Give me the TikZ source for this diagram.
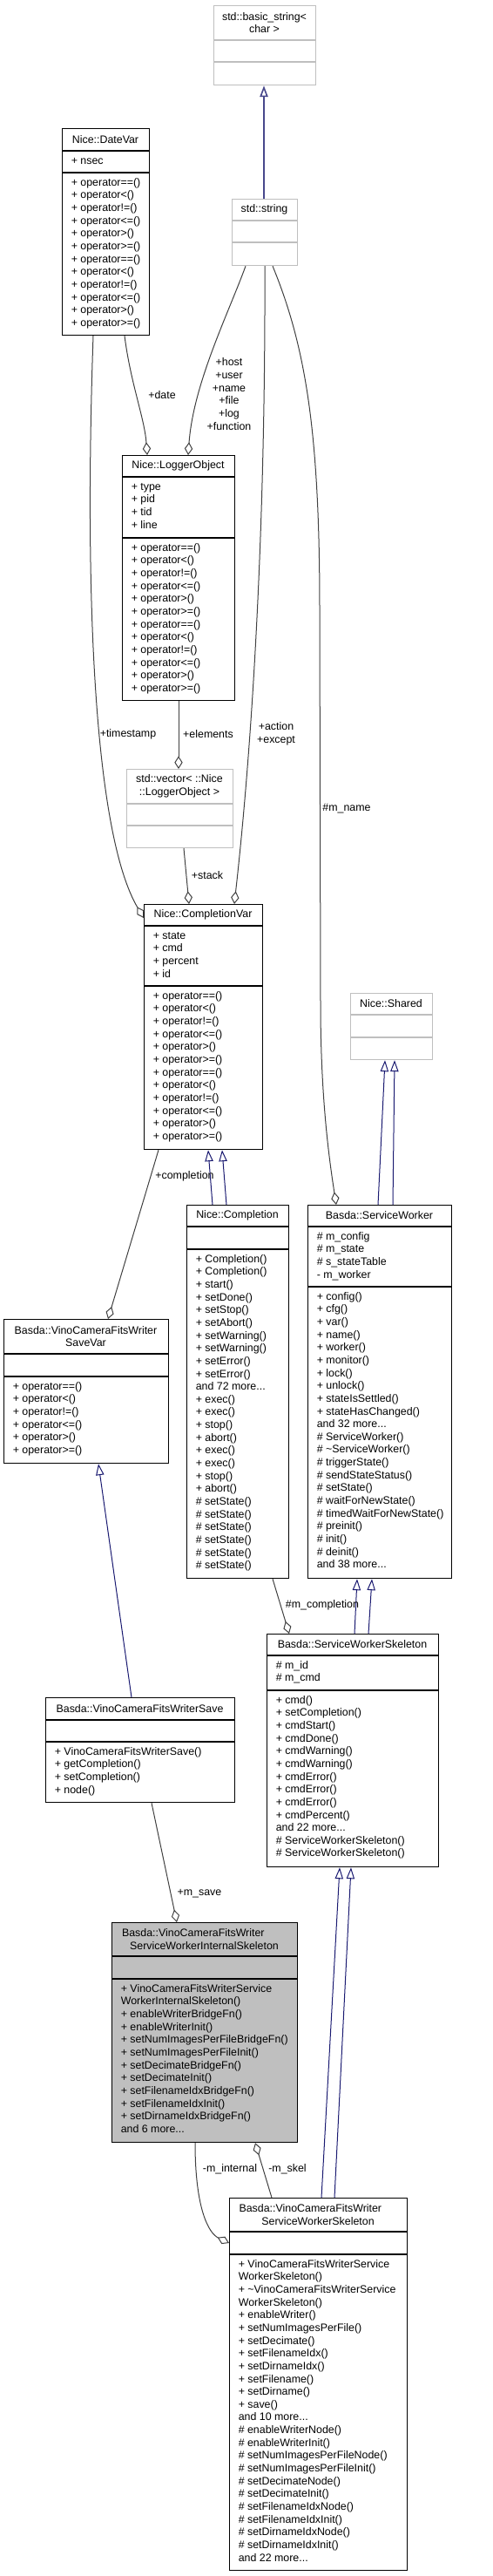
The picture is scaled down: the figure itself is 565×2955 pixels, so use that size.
\documentclass[tikz,border=0pt]{standalone}
\usepackage{fontspec}
\setmainfont{Liberation Sans}
\usetikzlibrary{arrows.meta,calc}
\definecolor{edgegray}{HTML}{404040}
\definecolor{inhblue}{HTML}{191970}
\definecolor{lightborder}{HTML}{BFBFBF}
\definecolor{selfill}{HTML}{BFBFBF}
\newcommand\umlbox[9]{%
  \node[#2, anchor=north west, inner sep=0pt, minimum width={(#5-#3)*0.75pt}, minimum height={(#6-#4)*0.75pt}] (#1) at (#3,#4) {};
  \draw[#2] ($(#1.north west)+(0,#7-#4)$) -- ($(#1.north east)+(0,#7-#4)$);
  \draw[#2] ($(#1.north west)+(0,#8-#4)$) -- ($(#1.north east)+(0,#8-#4)$);
  \node[ttl] (#1-t) at ({(#3+#5)/2},{(#4+#7)/2}) {#9};
}
\newcommand\umlmem[4]{\node[mem] (#1) at (#2,#3) {\strut #4};}
\begin{document}
\begin{tikzpicture}[x=0.75pt,y=-0.75pt,
  txt/.style={font=\fontsize{9.3}{10.98}\selectfont, inner sep=0pt},
  ttl/.style={txt, align=center, anchor=center},
  mem/.style={txt, align=left, anchor=north west},
  lbl/.style={txt, align=center, anchor=center},
  boxline/.style={draw=black, line width=0.9pt},
  stdline/.style={draw=lightborder, line width=0.9pt},
  agg/.style={draw=edgegray, line width=0.75pt, -{Diamond[open, length=11pt, width=7pt]}},
  inh/.style={draw=inhblue, line width=0.75pt, -{Triangle[open, length=9.75pt, width=7pt]}},
]
\useasboundingbox (0,0) rectangle (565,2955);

% ---------- boxes ----------
\umlbox{bs}{stdline}{245}{6}{362}{97}{46}{71}{std::basic\_string<\\char >}
\umlbox{ss}{stdline}{266}{228}{341}{304}{253}{278}{std::string}
\umlbox{dv}{boxline}{71}{147}{171}{384}{173}{198}{Nice::DateVar}
\umlmem{dv-a}{81.5}{177.75}{+ nsec}
\umlmem{dv-m}{81.5}{202.75}{+ operator==()\\+ operator<()\\+ operator!=()\\+ operator<=()\\+ operator>()\\+ operator>=()\\+ operator==()\\+ operator<()\\+ operator!=()\\+ operator<=()\\+ operator>()\\+ operator>=()}

\umlbox{lo}{boxline}{140}{522}{269}{803}{547}{617}{Nice::LoggerObject}
\umlmem{lo-a}{150.5}{551.75}{+ type\\+ pid\\+ tid\\+ line}
\umlmem{lo-m}{150.5}{621.75}{+ operator==()\\+ operator<()\\+ operator!=()\\+ operator<=()\\+ operator>()\\+ operator>=()\\+ operator==()\\+ operator<()\\+ operator!=()\\+ operator<=()\\+ operator>()\\+ operator>=()}

\umlbox{vec}{stdline}{145}{882}{267}{972}{922}{947}{std::vector< ::Nice\\::LoggerObject >}

\umlbox{cv}{boxline}{165}{1037}{301}{1318}{1062}{1131}{Nice::CompletionVar}
\umlmem{cv-a}{175.5}{1066.75}{+ state\\+ cmd\\+ percent\\+ id}
\umlmem{cv-m}{175.5}{1135.75}{+ operator==()\\+ operator<()\\+ operator!=()\\+ operator<=()\\+ operator>()\\+ operator>=()\\+ operator==()\\+ operator<()\\+ operator!=()\\+ operator<=()\\+ operator>()\\+ operator>=()}

\umlbox{sh}{stdline}{402}{1139}{496}{1215}{1164}{1190}{Nice::Shared}

\umlbox{co}{boxline}{214}{1382}{331}{1810}{1407}{1433}{Nice::Completion}
\umlmem{co-m}{224.5}{1437.75}{+ Completion()\\+ Completion()\\+ start()\\+ setDone()\\+ setStop()\\+ setAbort()\\+ setWarning()\\+ setWarning()\\+ setError()\\+ setError()\\and 72 more...\\+ exec()\\+ exec()\\+ stop()\\+ abort()\\+ exec()\\+ exec()\\+ stop()\\+ abort()\\\# setState()\\\# setState()\\\# setState()\\\# setState()\\\# setState()\\\# setState()}

\umlbox{sw}{boxline}{353}{1382}{518}{1810}{1407}{1476}{Basda::ServiceWorker}
\umlmem{sw-a}{363.5}{1411.75}{\# m\_config\\\# m\_state\\\# s\_stateTable\\- m\_worker}
\umlmem{sw-m}{363.5}{1480.75}{+ config()\\+ cfg()\\+ var()\\+ name()\\+ worker()\\+ monitor()\\+ lock()\\+ unlock()\\+ stateIsSettled()\\+ stateHasChanged()\\and 32 more...\\\# ServiceWorker()\\\# \textasciitilde ServiceWorker()\\\# triggerState()\\\# sendStateStatus()\\\# setState()\\\# waitForNewState()\\\# timedWaitForNewState()\\\# preinit()\\\# init()\\\# deinit()\\and 38 more...}

\umlbox{svv}{boxline}{4}{1513}{193}{1678}{1553}{1579}{Basda::VinoCameraFitsWriter\\SaveVar}
\umlmem{svv-m}{14.5}{1583.75}{+ operator==()\\+ operator<()\\+ operator!=()\\+ operator<=()\\+ operator>()\\+ operator>=()}

\umlbox{sws}{boxline}{306}{1874}{503}{2141}{1899}{1939}{Basda::ServiceWorkerSkeleton}
\umlmem{sws-a}{316.5}{1903.75}{\# m\_id\\\# m\_cmd}
\umlmem{sws-m}{316.5}{1943.75}{+ cmd()\\+ setCompletion()\\+ cmdStart()\\+ cmdDone()\\+ cmdWarning()\\+ cmdWarning()\\+ cmdError()\\+ cmdError()\\+ cmdError()\\+ cmdPercent()\\and 22 more...\\\# ServiceWorkerSkeleton()\\\# ServiceWorkerSkeleton()}

\umlbox{sv}{boxline}{52}{1947}{269}{2067}{1973}{1998}{Basda::VinoCameraFitsWriterSave}
\umlmem{sv-m}{62.5}{2002.75}{+ VinoCameraFitsWriterSave()\\+ getCompletion()\\+ setCompletion()\\+ node()}

\umlbox{in}{boxline, fill=selfill}{128}{2205}{341}{2457}{2244}{2270}{Basda::VinoCameraFitsWriter\hspace*{19pt}\\ServiceWorkerInternalSkeleton}
\umlmem{in-m}{138.5}{2274.75}{+ VinoCameraFitsWriterService\\WorkerInternalSkeleton()\\+ enableWriterBridgeFn()\\+ enableWriterInit()\\+ setNumImagesPerFileBridgeFn()\\+ setNumImagesPerFileInit()\\+ setDecimateBridgeFn()\\+ setDecimateInit()\\+ setFilenameIdxBridgeFn()\\+ setFilenameIdxInit()\\+ setDirnameIdxBridgeFn()\\and 6 more...}

\umlbox{vs}{boxline}{263}{2521}{467}{2948}{2560}{2586}{Basda::VinoCameraFitsWriter\hspace*{13pt}\\ServiceWorkerSkeleton}
\umlmem{vs-m}{273.5}{2590.75}{+ VinoCameraFitsWriterService\\WorkerSkeleton()\\+ \textasciitilde VinoCameraFitsWriterService\\WorkerSkeleton()\\+ enableWriter()\\+ setNumImagesPerFile()\\+ setDecimate()\\+ setFilenameIdx()\\+ setDirnameIdx()\\+ setFilename()\\+ setDirname()\\+ save()\\and 10 more...\\\# enableWriterNode()\\\# enableWriterInit()\\\# setNumImagesPerFileNode()\\\# setNumImagesPerFileInit()\\\# setDecimateNode()\\\# setDecimateInit()\\\# setFilenameIdxNode()\\\# setFilenameIdxInit()\\\# setDirnameIdxNode()\\\# setDirnameIdxInit()\\and 22 more...}

% ---------- inheritance ----------
\draw[inh, line width=1.2pt, draw={rgb,255:red,72;green,72;blue,140}] ($(ss.north west)+(37,0)$) -- ($(bs.south west)+(58,0)$);
\draw[inh] ($(sw.north west)+(81,0)$) -- ($(sh.south west)+(40,0)$);
\draw[inh] ($(sw.north west)+(98,0)$) -- ($(sh.south west)+(51,0)$);
\draw[inh] ($(co.north west)+(30,0)$) -- ($(cv.south west)+(74,0)$);
\draw[inh] ($(co.north west)+(46,0)$) -- ($(cv.south west)+(90,0)$);
\draw[inh] ($(sws.north west)+(101,0)$) -- ($(sw.south west)+(57,0)$);
\draw[inh] ($(sws.north west)+(117,0)$) -- ($(sw.south west)+(74,0)$);
\draw[inh] ($(sv.north west)+(99,0)$) -- ($(svv.south west)+(109,0)$);
\draw[inh] ($(vs.north west)+(106,0)$) -- ($(sws.south west)+(84,0)$);
\draw[inh] ($(vs.north west)+(121,0)$) -- ($(sws.south west)+(97,0)$);

% ---------- aggregation / usage ----------
\draw[agg] ($(dv.south west)+(36,0)$) .. controls (96,700) and (110,960) .. ($(cv.north west)+(0,16)$);
\draw[agg] ($(dv.south west)+(72,0)$) .. controls (150,440) and (166,480) .. ($(lo.north west)+(29,0)$);
\draw[agg] ($(ss.south west)+(16,0)$) .. controls (262,360) and (222,440) .. ($(lo.north west)+(76,0)$);
\draw[agg] ($(ss.south west)+(38,0)$) .. controls (305,600) and (290,850) .. ($(cv.north west)+(104,0)$);
\draw[agg] ($(ss.south west)+(47,0)$) .. controls (352,400) and (367,500) .. (367,700) -- (368,1150) .. controls (368,1260) and (378,1330) .. ($(sw.north west)+(33,0)$);
\draw[agg] ($(lo.south west)+(65,0)$) -- ($(vec.north west)+(60,0)$);
\draw[agg] ($(vec.south west)+(66,0)$) -- ($(cv.north west)+(52,0)$);
\draw[agg] ($(cv.south west)+(17,0)$) -- ($(svv.north west)+(120,0)$);
\draw[agg] ($(co.south west)+(99,0)$) -- ($(sws.north west)+(26,0)$);
\draw[agg] ($(sv.south west)+(122,0)$) -- ($(in.north west)+(75,0)$);
\draw[agg] ($(in.south west)+(96,0)$) .. controls (224,2535) and (240,2562) .. ($(vs.north west)+(0,52)$);
\draw[agg] ($(vs.north west)+(49,0)$) -- ($(in.south west)+(165,0)$);

% ---------- labels ----------
\node[lbl] (l-date) at (186,453) {+date};
\node[lbl] (l-host) at (263,452) {+host\\+user\\+name\\+file\\+log\\+function};
\node[lbl] (l-ts) at (147,842) {+timestamp};
\node[lbl] (l-el) at (239,842) {+elements};
\node[lbl] (l-act) at (317,842) {+action\\+except};
\node[lbl] (l-mn) at (398,927) {\#m\_name};
\node[lbl] (l-st) at (238,1004) {+stack};
\node[lbl] (l-co) at (212,1349) {+completion};
\node[lbl] (l-mc) at (370,1841) {\#m\_completion};
\node[lbl] (l-ms) at (229,2172) {+m\_save};
\node[lbl] (l-mi) at (264,2488) {-m\_internal};
\node[lbl] (l-sk) at (330,2488) {-m\_skel};
\end{tikzpicture}
\end{document}
